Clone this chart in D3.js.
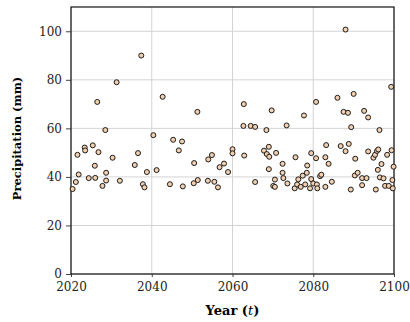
<!DOCTYPE html>
<html>
<head>
<meta charset="utf-8">
<script src="https://cdn.jsdelivr.net/npm/d3@7"></script>
<style>
  body { margin: 0; background: #fff; }
  text { font-family: "DejaVu Serif", serif; }
</style>
</head>
<body>
<div id="chart"></div>
<script>
const years = [
  2020.4, 2021.2, 2021.9, 2021.6, 2023.4, 2023.5, 2025.4, 2026.8, 2025.9, 2024.4,
  2026.0, 2026.5, 2028.5, 2028.7, 2028.7, 2027.8, 2030.3, 2031.3, 2032.1, 2035.8,
  2036.6, 2037.4, 2037.8, 2038.2, 2038.8, 2040.4, 2041.2, 2042.7, 2044.5, 2045.3,
  2047.5, 2046.7, 2047.7, 2050.4, 2050.5, 2051.4, 2051.3, 2053.9, 2054.0, 2054.9,
  2055.5, 2056.4, 2056.8, 2057.9, 2058.9, 2060.0, 2060.0, 2062.8, 2062.9, 2062.7,
  2064.5, 2065.6, 2065.6, 2068.4, 2069.7, 2067.8, 2069.0, 2068.5, 2069.1, 2070.8,
  2069.0, 2070.5, 2070.1, 2070.5, 2072.4, 2072.4, 2072.6, 2073.6, 2073.4, 2075.6,
  2075.4, 2076.0, 2076.3, 2076.9, 2077.4, 2078.0, 2078.4, 2078.5, 2077.7, 2079.5,
  2079.5, 2079.2, 2080.0, 2080.7, 2080.7, 2080.9, 2081.0, 2081.7, 2082.0, 2083.0,
  2083.0, 2083.8, 2083.2, 2084.6, 2086.0, 2086.8, 2087.5, 2088.0, 2088.0, 2088.6,
  2088.8, 2089.4, 2089.3, 2090.0, 2090.4, 2090.3, 2091.0, 2092.1, 2092.1, 2092.6,
  2093.2, 2093.6, 2093.6, 2094.9, 2095.3, 2095.8, 2096.1, 2096.4, 2096.0, 2096.5,
  2096.9, 2095.5, 2097.4, 2097.8, 2098.3, 2098.7, 2099.3, 2099.4, 2099.9, 2099.6,
  2099.7
];
const precip = [
  35.0, 37.9, 41.0, 49.1, 52.1, 50.9, 53.0, 50.2, 44.6, 39.5,
  39.6, 70.9, 59.3, 41.7, 38.5, 36.3, 47.9, 79.0, 38.4, 44.9,
  49.8, 90.0, 37.0, 35.7, 42.0, 57.2, 42.8, 73.0, 37.0, 55.3,
  54.6, 50.9, 36.1, 37.4, 45.7, 38.7, 66.8, 38.4, 47.2, 49.0,
  38.0, 35.7, 44.0, 45.5, 42.0, 51.4, 49.7, 70.0, 48.8, 61.0,
  61.0, 60.6, 37.9, 59.3, 67.4, 50.8, 52.4, 49.4, 48.3, 49.9,
  43.2, 38.9, 36.3, 35.9, 45.4, 41.7, 39.5, 37.3, 61.2, 48.1,
  35.3, 36.9, 39.0, 35.9, 40.5, 36.9, 41.7, 44.7, 65.3, 49.8,
  39.1, 35.3, 37.3, 70.9, 47.7, 36.9, 35.3, 40.3, 40.9, 35.9,
  48.1, 45.4, 53.1, 38.0, 72.6, 52.7, 66.8, 100.7, 50.6, 66.4,
  53.6, 60.5, 34.8, 74.2, 47.5, 40.6, 41.7, 39.5, 36.6, 67.2,
  39.5, 64.5, 50.5, 47.9, 49.1, 50.7, 51.3, 59.3, 42.9, 39.8,
  45.3, 34.8, 39.4, 36.3, 49.1, 36.3, 77.1, 51.0, 44.2, 38.7,
  35.3
];
const xTicks = [2020, 2040, 2060, 2080, 2100];
const yTicks = [0, 20, 40, 60, 80, 100];

const data = years.map((t, i) => ({ t: t, p: precip[i] }));

const margin = { top: 7, right: 16, bottom: 48, left: 71 };
const width  = 410 - margin.left - margin.right;
const height = 322 - margin.top  - margin.bottom;

const svg = d3.select("#chart")
  .append("svg")
  .attr("width",  width  + margin.left + margin.right)
  .attr("height", height + margin.top  + margin.bottom)
  .append("g")
  .attr("transform", `translate(${margin.left},${margin.top})`);

const x = d3.scaleLinear().domain([2020, 2100]).range([0, width]);
const y = d3.scaleLinear().domain([0, 110]).range([height, 0]);

// Grid
svg.append("g")
  .selectAll("line")
  .data(xTicks)
  .join("line")
  .attr("x1", d => x(d)).attr("x2", d => x(d))
  .attr("y1", 0).attr("y2", height)
  .attr("stroke", "#d3d3d3")
  .attr("stroke-width", 1);

svg.append("g")
  .selectAll("line")
  .data(yTicks)
  .join("line")
  .attr("x1", 0).attr("x2", width)
  .attr("y1", d => y(d)).attr("y2", d => y(d))
  .attr("stroke", "#d3d3d3")
  .attr("stroke-width", 1);

// Axes
const xAxis = svg.append("g")
  .attr("transform", `translate(0,${height})`)
  .call(d3.axisBottom(x).tickValues(xTicks).tickFormat(d3.format("d")).tickSize(3).tickPadding(5));

const yAxis = svg.append("g")
  .call(d3.axisLeft(y).tickValues(yTicks).tickSize(5).tickPadding(4));

[xAxis, yAxis].forEach(a => {
  a.select(".domain").remove();
  a.selectAll("text").style("font-size", "12px").attr("fill", "#222");
  a.selectAll("line").attr("stroke", "#444");
});

// Frame
svg.append("rect")
  .attr("width", width)
  .attr("height", height)
  .attr("fill", "none")
  .attr("stroke", "#111")
  .attr("stroke-width", 1.2);

// Points
svg.selectAll(".dot")
  .data(data)
  .join("circle")
  .attr("class", "dot")
  .attr("cx", d => x(d.t))
  .attr("cy", d => y(d.p))
  .attr("r", 2.5)
  .attr("fill", "#f2cfae")
  .attr("stroke", "#1a1a1a")
  .attr("stroke-width", 1);

// X label
const xl = svg.append("text")
  .attr("x", width / 2)
  .attr("y", height + 41)
  .attr("text-anchor", "middle")
  .style("font-size", "13px")
  .style("font-weight", "bold");
xl.append("tspan").text("Year (");
xl.append("tspan").style("font-style", "italic").style("font-weight", "normal").text("t");
xl.append("tspan").text(")");

// Y label
svg.append("text")
  .attr("transform", "rotate(-90)")
  .attr("x", -height / 2 + 2)
  .attr("y", -50)
  .attr("text-anchor", "middle")
  .style("font-size", "11.5px")
  .style("font-weight", "bold")
  .text("Precipitation (mm)");
</script>
</body>
</html>
